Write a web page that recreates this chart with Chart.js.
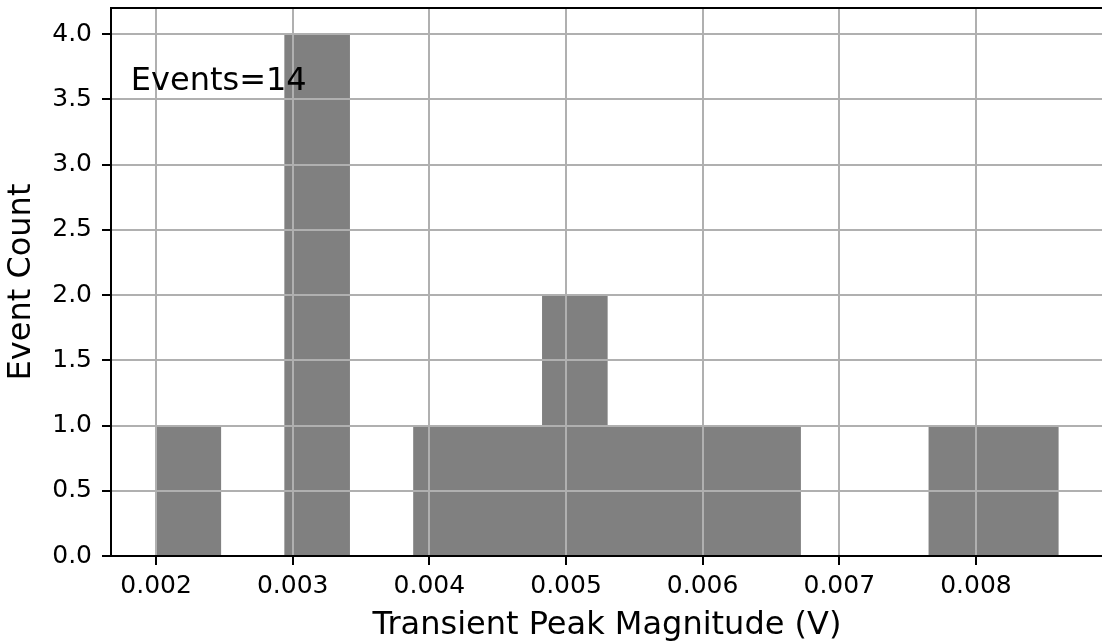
<!DOCTYPE html>
<html>
<head>
<meta charset="utf-8">
<script src="https://cdn.jsdelivr.net/npm/chart.js@4.4.1/dist/chart.umd.min.js"></script>
<style>
  html, body { margin: 0; padding: 0; background: #fff; overflow: hidden; }
  #wrap { position: relative; width: 1106px; height: 642px; }
</style>
</head>
<body>
<div id="wrap"><canvas id="chart"></canvas></div>
<script>
// Histogram bin edges (V) and the number of events in each bin
const binEdges = [
  0.0020000, 0.0024715, 0.0029430, 0.0034144, 0.0038859,
  0.0043574, 0.0048289, 0.0053004, 0.0057718, 0.0062433,
  0.0067148, 0.0071863, 0.0076578, 0.0081292, 0.0086007
];
const eventCounts = [1, 0, 4, 0, 1, 1, 2, 1, 1, 1, 0, 0, 1, 1];

// Axis ticks and ranges
const xTickValues = [0.002, 0.003, 0.004, 0.005, 0.006, 0.007, 0.008];
const yTickValues = [0, 0.5, 1, 1.5, 2, 2.5, 3, 3.5, 4];
const xRange = [0.00167, 0.00893];
const yRange = [0, 4.2];

const xTitle = 'Transient Peak Magnitude (V)';
const yTitle = 'Event Count';
const eventsText = 'Events=' + eventCounts.reduce((a, b) => a + b, 0);

// Each bar sits at the centre of its bin
const binData = eventCounts.map((n, i) => ({ x: (binEdges[i] + binEdges[i + 1]) / 2, y: n }));

Chart.defaults.font.family = '"DejaVu Sans", sans-serif';
Chart.defaults.color = '#000';

const GRID = '#b0b0b0';
const INK = '#000';
const LABEL_SIZE = 32;
const TICK_SIZE = 25;

// Text label in the upper-left corner of the plot area (axes fraction 0.02, 0.85)
const eventsLabel = {
  id: 'eventsLabel',
  afterDraw(chart) {
    const { ctx, chartArea: a } = chart;
    ctx.save();
    ctx.font = LABEL_SIZE + 'px "DejaVu Sans", sans-serif';
    ctx.fillStyle = INK;
    ctx.textAlign = 'left';
    ctx.textBaseline = 'alphabetic';
    ctx.fillText(eventsText, a.left + 0.02 * (a.right - a.left), a.bottom - 0.85 * (a.bottom - a.top));
    ctx.restore();
  }
};

const tickGrid = {
  color: GRID, lineWidth: 2, offset: false, z: 1,
  drawTicks: true, tickLength: 9, tickColor: INK, tickWidth: 2
};

// Fixed axis sizes; tick labels must not push the plot area inwards
function fixSize(w, h) {
  return function (s) {
    if (w !== null) s.width = w;
    if (h !== null) s.height = h;
    s.paddingTop = 0; s.paddingBottom = 0; s.paddingLeft = 0; s.paddingRight = 0;
  };
}

new Chart(document.getElementById('chart'), {
  type: 'bar',
  data: {
    datasets: [{
      data: binData,
      backgroundColor: '#808080',
      borderWidth: 0,
      inflateAmount: 0.6,
      barPercentage: 1,
      categoryPercentage: 1
    }]
  },
  options: {
    responsive: true,
    maintainAspectRatio: false,
    animation: false,
    devicePixelRatio: 1,
    layout: { padding: { left: 0, right: 3, top: 8, bottom: 0 } },
    plugins: { legend: { display: false }, tooltip: { enabled: false } },
    scales: {
      x: {
        type: 'linear', position: 'bottom',
        min: xRange[0], max: xRange[1], offset: false,
        afterBuildTicks(s) { s.ticks = xTickValues.map(v => ({ value: v })); },
        afterFit: fixSize(null, 86),
        ticks: {
          callback: v => v.toFixed(3), font: { size: TICK_SIZE }, color: INK,
          padding: 6.5, maxRotation: 0, autoSkip: false
        },
        grid: tickGrid,
        border: { display: true, color: INK, width: 2, z: 2 },
        title: {
          display: true, text: xTitle, color: INK,
          font: { size: LABEL_SIZE, lineHeight: 1 }, padding: { top: 0, bottom: 0 }
        }
      },
      y: {
        type: 'linear', position: 'left',
        min: yRange[0], max: yRange[1],
        afterBuildTicks(s) { s.ticks = yTickValues.map(v => ({ value: v })); },
        afterFit: fixSize(111, null),
        ticks: { callback: v => v.toFixed(1), font: { size: TICK_SIZE }, color: INK, padding: 10, autoSkip: false },
        grid: tickGrid,
        border: { display: true, color: INK, width: 2, z: 2 },
        title: {
          display: true, text: yTitle, color: INK,
          font: { size: LABEL_SIZE, lineHeight: 1 }, padding: { top: 6, bottom: 0 }
        }
      },
      xTop: {
        type: 'linear', position: 'top', display: true,
        min: xRange[0], max: xRange[1],
        afterFit: fixSize(null, 0),
        ticks: { display: false },
        grid: { display: false, drawTicks: false },
        border: { display: true, color: INK, width: 2, z: 2 }
      },
      yRight: {
        type: 'linear', position: 'right', display: true,
        min: yRange[0], max: yRange[1],
        afterFit: fixSize(0, null),
        ticks: { display: false },
        grid: { display: false, drawTicks: false },
        border: { display: true, color: INK, width: 2, z: 2 }
      }
    }
  },
  plugins: [eventsLabel]
});
</script>
</body>
</html>
